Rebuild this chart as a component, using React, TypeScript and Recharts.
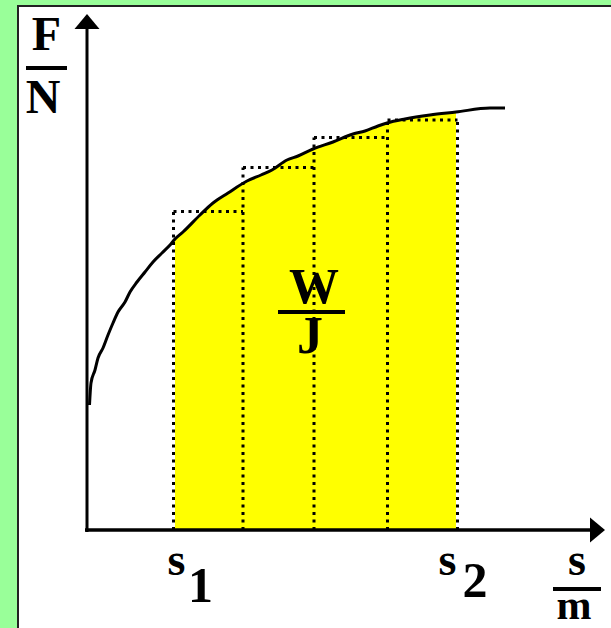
import { ComposedChart, Line, Area, XAxis, YAxis, ReferenceLine, ReferenceDot } from 'recharts';

// curve F(s) (s in m, F in N, arbitrary units)
const curveS = [
  0.05, 0.08, 0.16, 0.22, 0.32, 0.42, 0.52, 0.62, 0.76, 0.86, 1.0, 1.16, 1.32, 1.5, 1.66, 1.76,
  1.92, 2.26, 2.52, 2.82, 3.2, 3.48, 3.7, 4.0, 4.22, 4.52, 4.92, 5.32, 5.56, 5.82, 6.0, 6.36,
  6.86, 7.38, 8.06, 8.36,
];
const curveF = [
  2.5, 2.94, 3.2, 3.44, 3.64, 3.9, 4.14, 4.36, 4.56, 4.76, 4.96, 5.16, 5.36, 5.54, 5.7, 5.82,
  5.96, 6.3, 6.54, 6.74, 6.98, 7.1, 7.2, 7.4, 7.48, 7.62, 7.76, 7.92, 7.98, 8.08, 8.14, 8.22,
  8.3, 8.36, 8.44, 8.44,
];

// integration limits and strip edges
const s1 = 1.76;
const s2 = 7.38;
const stripEdges = [1.73, 3.12, 4.54, 6.01, 7.41];
const stripHeights = [6.37, 7.25, 7.85, 8.2];

// axis ends
const xAxisEnd = 10.06;
const xArrowTip = 10.36;
const yAxisEnd = 10.02;
const yArrowTip = 10.32;

const curveData = curveS.map((s, i) => ({ x: s, y: curveF[i] }));
const areaData = curveData.filter((p) => p.x >= s1 && p.x <= s2);

// dotted strip outlines
const verticalData = stripEdges.map((x, i) => {
  const top = Math.max(stripHeights[i - 1] ?? 0, stripHeights[i] ?? 0);
  return [{ x, y: 0 }, { x, y: top }];
});
const topData = stripHeights.map((h, i) => [
  { x: stripEdges[i], y: h },
  { x: stripEdges[i + 1], y: h },
]);

const FONT = '"Liberation Serif", "Times New Roman", serif';

const ArrowUp = ({ cx, cy }: any) => (
  <polygon points={`${cx},${cy} ${cx - 12.5},${cy + 15} ${cx + 12.5},${cy + 15}`} fill="#000" />
);
const ArrowRight = ({ cx, cy }: any) => (
  <polygon points={`${cx},${cy} ${cx - 15},${cy - 12.5} ${cx - 15},${cy + 12.5}`} fill="#000" />
);

export default function App() {
  const dotted = [...verticalData, ...topData].map((d, i) => (
    <Line
      key={'d' + i}
      data={d}
      dataKey="y"
      type="linear"
      stroke="#000"
      strokeWidth={3}
      strokeDasharray="3 4.5"
      strokeLinecap="butt"
      dot={false}
      activeDot={false}
      isAnimationActive={false}
    />
  ));

  return (
    <div style={{ position: 'absolute', left: 0, top: 0, width: 611, height: 628, background: '#99FF99' }}>
      <div
        style={{
          position: 'absolute',
          left: 17,
          top: 5,
          right: 0,
          bottom: 0,
          background: '#fff',
          borderLeft: '2px solid #222',
          borderTop: '2px solid #222',
        }}
      />
      <div style={{ position: 'absolute', left: 0, top: 0 }}>
        <ComposedChart width={611} height={628} margin={{ top: 10, right: 4, bottom: 98, left: 87 }}>
          <XAxis type="number" dataKey="x" domain={[0, 10.4]} hide allowDataOverflow />
          <YAxis type="number" dataKey="y" domain={[0, 10.4]} hide allowDataOverflow />
          <Area
            data={areaData}
            dataKey="y"
            type="monotone"
            fill="#FFFF00"
            fillOpacity={1}
            stroke="none"
            isAnimationActive={false}
          />
          {dotted}
          <Line
            data={curveData}
            dataKey="y"
            type="monotone"
            stroke="#000"
            strokeWidth={3}
            dot={false}
            activeDot={false}
            isAnimationActive={false}
          />
          <ReferenceLine segment={[{ x: -0.04, y: 0 }, { x: xAxisEnd, y: 0 }]} stroke="#000" strokeWidth={3.5} ifOverflow="visible" />
          <ReferenceLine segment={[{ x: 0, y: -0.04 }, { x: 0, y: yAxisEnd }]} stroke="#000" strokeWidth={3} ifOverflow="visible" />
          <ReferenceDot x={xArrowTip} y={0} ifOverflow="visible" shape={ArrowRight} />
          <ReferenceDot x={0} y={yArrowTip} ifOverflow="visible" shape={ArrowUp} />
        </ComposedChart>
      </div>
      <svg width={611} height={628} style={{ position: 'absolute', left: 0, top: 0, pointerEvents: 'none' }}>
        <g fontFamily={FONT} fontWeight="bold" fill="#000">
          <text x={46.5} y={50} fontSize={48} textAnchor="middle">F</text>
          <rect x={26} y={66} width={41} height={4} />
          <text x={43} y={113} fontSize={48} textAnchor="middle">N</text>

          <text x={314} y={303} fontSize={50} textAnchor="middle">W</text>
          <rect x={278} y={310} width={67} height={4} />
          <text x={310} y={353} fontSize={52} textAnchor="middle">J</text>

          <text x={176.5} y={575} fontSize={46} textAnchor="middle">s</text>
          <text x={200.5} y={602} fontSize={50} textAnchor="middle">1</text>
          <text x={447.5} y={575} fontSize={46} textAnchor="middle">s</text>
          <text x={475} y={597} fontSize={50} textAnchor="middle">2</text>

          <text x={577} y={575} fontSize={46} textAnchor="middle">s</text>
          <rect x={553} y={587} width={48} height={4} />
          <text x={574} y={619} fontSize={42} textAnchor="middle">m</text>
        </g>
      </svg>
    </div>
  );
}
